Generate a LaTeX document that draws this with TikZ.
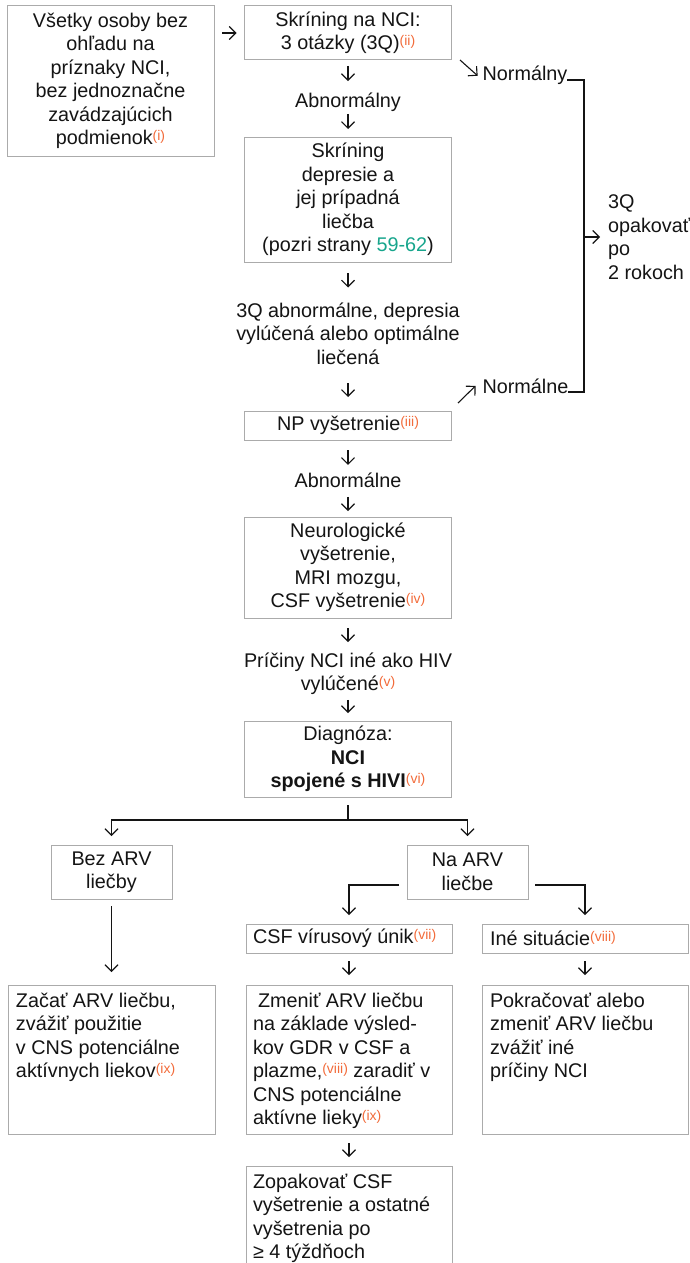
\documentclass[tikz,border=0pt]{standalone}
\usepackage{fontspec}
\setmainfont{Liberation Sans}
\usetikzlibrary{arrows.meta}
\definecolor{ink}{HTML}{141414}
\definecolor{boxgray}{HTML}{ABABAB}
\definecolor{noteor}{HTML}{F26B3A}
\definecolor{pageteal}{HTML}{17A58C}
\newcommand\dgfont{\fontsize{19.8}{23.5}\selectfont\lineskiplimit=-50pt\relax}
\newcommand\nt[1]{\textcolor{noteor}{\raisebox{4pt}{\fontsize{14}{14}\selectfont(#1)}}}

\begin{document}
\begin{tikzpicture}[x=1pt,y=-1pt,
  every node/.style={inner sep=0pt, outer sep=0pt, text=ink, font=\dgfont},
  cbox/.style={draw=boxgray, line width=1pt, rectangle, anchor=north west, align=center},
  ebox/.style={draw=boxgray, line width=1pt, rectangle, anchor=north west},
  lbl/.style={align=center},
  ltxt/.style={align=left, anchor=north west},
  arr/.style={draw=ink, line width=1.1pt, -{Straight Barb[length=6.5pt,width=13pt]}},
  ln/.style={draw=ink, line width=1.1pt}]

\useasboundingbox (0,0) rectangle (690,1263);
\clip (0,0) rectangle (690,1263);

% main column boxes
\node[cbox, minimum width=207pt, minimum height=150pt] (b1) at (7,6)
  {Všetky osoby bez\\ohľadu na\\príznaky NCI,\\bez jednoznačne\\zavádzajúcich\\podmienok\nt{i}};
\node[cbox, minimum width=207pt, minimum height=54pt] (b2) at (244.5,6)
  {Skríning na NCI:\\3 otázky (3Q)\nt{ii}};
\node[cbox, minimum width=207pt, minimum height=125pt] (b3) at (244.5,137)
  {Skríning\\depresie a\\jej prípadná\\liečba\\(pozri strany \textcolor{pageteal}{59-62})};
\node[cbox, minimum width=207pt, minimum height=29pt] (np) at (244.5,411)
  {NP vyšetrenie\nt{iii}};
\node[cbox, minimum width=207pt, minimum height=101pt] (neu) at (244.5,517)
  {Neurologické\\vyšetrenie,\\MRI mozgu,\\CSF vyšetrenie\nt{iv}};
\node[cbox, minimum width=207pt, minimum height=76pt] (diag) at (244.5,721)
  {Diagnóza:\\\textbf{NCI}\\\textbf{spojené s HIVI}\nt{vi}};

% branch boxes
\node[cbox, minimum width=121pt, minimum height=54pt] (bez) at (51,845) {Bez ARV\\liečby};
\node[cbox, minimum width=121pt, minimum height=54pt] (na) at (407,845) {Na ARV\\liečbe};

\node[ebox, minimum width=206pt, minimum height=29pt] (csf) at (246,924) {};
\node[ltxt, anchor=west] (csft) at ([xshift=7pt]csf.west) {CSF vírusový únik\nt{vii}};
\node[ebox, minimum width=206pt, minimum height=29pt] (ine) at (482,924) {};
\node[ltxt, anchor=west] (inet) at ([xshift=8pt]ine.west) {Iné situácie\nt{viii}};

\node[ebox, minimum width=207pt, minimum height=149pt] (zac) at (8,985) {};
\node[ltxt] (zact) at ([shift={(8,8)}]zac.north west)
  {Začať ARV liečbu,\\zvážiť použitie\\v CNS potenciálne\\aktívnych liekov\nt{ix}};
\node[ebox, minimum width=206pt, minimum height=149pt] (zme) at (246,985) {};
\node[ltxt] (zmet) at ([shift={(7,8)}]zme.north west)
  {\hspace*{5pt}Zmeniť ARV liečbu\\na základe výsled-\\kov GDR v CSF a\\plazme,\nt{viii} zaradiť v\\CNS potenciálne\\aktívne lieky\nt{ix}};
\node[ebox, minimum width=206pt, minimum height=149pt] (pok) at (482,985) {};
\node[ltxt] (pokt) at ([shift={(8,8)}]pok.north west)
  {Pokračovať alebo\\zmeniť ARV liečbu\\zvážiť iné\\príčiny NCI};
\node[ebox, minimum width=206pt, minimum height=130pt] (zop) at (246,1166) {};
\node[ltxt] (zopt) at ([shift={(7,8)}]zop.north west)
  {Zopakovať CSF\\vyšetrenie a ostatné\\vyšetrenia po\\≥ 4 týždňoch};

% free-standing labels
\node[anchor=base] (abn1) at (348,107) {Abnormálny};
\node[lbl, anchor=north] (q3) at (348,302.5) {3Q abnormálne, depresia\\vylúčená alebo optimálne\\liečená};
\node[anchor=base] (abn2) at (348,487) {Abnormálne};
\node[lbl, anchor=north] (pri) at (348,652.5) {Príčiny NCI iné ako HIV\\vylúčené\nt{v}};
\node[anchor=base] (nor1) at (525,81) {Normálny};
\node[anchor=base] (nor2) at (525.5,393) {Normálne};
\node[align=left, anchor=west] (rep) at (608,237) {3Q\\opakovať\\po\\2 rokoch};

% main column arrows
\draw[arr, shorten <=8pt, shorten >=8pt] (b1.east |- b2.west) -- (b2.west);
\draw[arr, shorten <=6pt, shorten >=11.4pt] (b2.south) -- (abn1.north);
\draw[arr, shorten <=2.8pt, shorten >=8pt] (abn1.south) -- (b3.north);
\draw[arr, shorten <=11pt, shorten >=15pt] (b3.south) -- (q3.north);
\draw[arr, shorten <=19pt, shorten >=14pt] (q3.south) -- (np.north);
\draw[arr, shorten <=10pt, shorten >=7.6pt] (np.south) -- (abn2.north);
\draw[arr, shorten <=9.7pt, shorten >=6pt] (abn2.south) -- (neu.north);
\draw[arr, shorten <=10pt, shorten >=10.5pt] (neu.south) -- (pri.north);
\draw[arr, shorten <=5.2pt, shorten >=8pt] (pri.south) -- (diag.north);

% normal results: repeat 3Q
\draw[arr] ([xshift=8.5pt]b2.south east) -- ([xshift=-5pt]nor1.west);
\draw[arr] ([shift={(6.5,-8)}]np.north east) -- ([xshift=-7pt]nor2.west);
\coordinate (brk) at (584,237);
\draw[ln] ([yshift=1pt]nor1.base east) -| (brk) |- ([yshift=1pt]nor2.base east);
\draw[arr, shorten >=8pt] (brk) -- (rep.west);

% treatment branches
\coordinate (split) at (348,820);
\draw[arr, shorten <=8pt, shorten >=9pt] (diag.south) -- (split) -| (bez.north);
\draw[arr, shorten >=9pt] (split) -| (na.north);
\draw[arr, shorten <=7pt, shorten >=13pt] (bez.south) -- (zac.north);
\draw[arr, shorten <=8pt, shorten >=9pt] ([yshift=-13pt]na.west) -| (csf.north);
\draw[arr, shorten <=7pt, shorten >=9pt] ([yshift=-13pt]na.east) -| (ine.north);
\draw[arr, shorten <=8pt, shorten >=10pt] (csf.south) -- (zme.north);
\draw[arr, shorten <=8pt, shorten >=10pt] (ine.south) -- (pok.north);
\draw[arr, shorten <=9pt, shorten >=9pt] (zme.south) -- (zop.north);
\end{tikzpicture}
\end{document}
